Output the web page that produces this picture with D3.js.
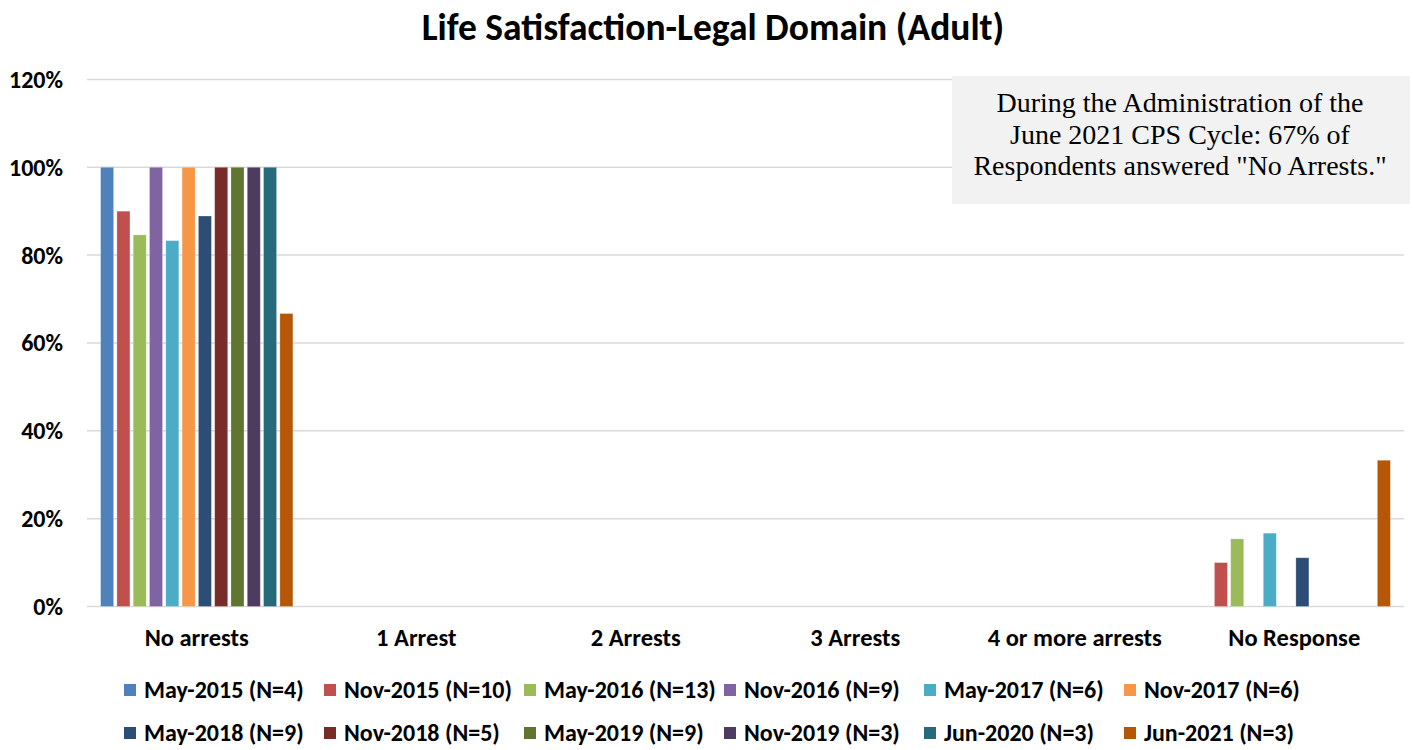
<!DOCTYPE html>
<html>
<head>
<meta charset="utf-8">
<script src="https://cdn.jsdelivr.net/npm/d3@7"></script>
<style>
  body { margin: 0; background: #fff; }
  svg { display: block; }
</style>
</head>
<body>
<div id="chart"></div>
<script>
// categorie e serie
const categories = ['No arrests', '1 Arrest', '2 Arrests', '3 Arrests', '4 or more arrests', 'No Response'];
const seriesNames = ['May-2015 (N=4)', 'Nov-2015 (N=10)', 'May-2016 (N=13)', 'Nov-2016 (N=9)',
  'May-2017 (N=6)', 'Nov-2017 (N=6)', 'May-2018 (N=9)', 'Nov-2018 (N=5)',
  'May-2019 (N=9)', 'Nov-2019 (N=3)', 'Jun-2020 (N=3)', 'Jun-2021 (N=3)'];
const seriesColors = ['#4F81BD', '#C0504D', '#9BBB59', '#8064A2', '#4BACC6', '#F79646',
  '#2C4D75', '#772C2A', '#5F7530', '#4D3B62', '#276A7C', '#B65708'];
// valori (%) per serie, nell'ordine delle categorie
const seriesValues = [
  [100, 0, 0, 0, 0, 0],
  [90, 0, 0, 0, 0, 10],
  [84.6, 0, 0, 0, 0, 15.4],
  [100, 0, 0, 0, 0, 0],
  [83.3, 0, 0, 0, 0, 16.7],
  [100, 0, 0, 0, 0, 0],
  [88.9, 0, 0, 0, 0, 11.1],
  [100, 0, 0, 0, 0, 0],
  [100, 0, 0, 0, 0, 0],
  [100, 0, 0, 0, 0, 0],
  [100, 0, 0, 0, 0, 0],
  [66.7, 0, 0, 0, 0, 33.3]
];
const yTicks = [0, 20, 40, 60, 80, 100, 120];
const chartTitle = 'Life Satisfaction-Legal Domain (Adult)';
const noteLines = ['During the Administration of the', 'June 2021 CPS Cycle: 67% of', 'Respondents answered "No Arrests."'];

const width = 1413, height = 750;
const plot = { left: 87, right: 1404, top: 79.4, bottom: 606.5 };
const sansFont = 'Carlito, Lato, Calibri, "Open Sans", sans-serif';

const svg = d3.select('#chart').append('svg')
  .attr('width', width)
  .attr('height', height);

// scale
const x0 = d3.scaleBand()
  .domain(categories)
  .range([plot.left, plot.right])
  .paddingInner(0.124)
  .paddingOuter(0.062);

const x1 = d3.scaleBand()
  .domain(d3.range(seriesNames.length))
  .range([0, x0.bandwidth()])
  .paddingInner(0.2)
  .paddingOuter(0);

const y = d3.scaleLinear()
  .domain([0, 120])
  .range([plot.bottom, plot.top]);

// griglia
svg.append('g')
  .selectAll('line')
  .data(yTicks)
  .enter()
  .append('line')
  .attr('x1', plot.left)
  .attr('x2', plot.right)
  .attr('y1', d => y(d))
  .attr('y2', d => y(d))
  .attr('stroke', '#d9d9d9')
  .attr('stroke-width', 1.5);

// etichette asse y
svg.append('g')
  .selectAll('text')
  .data(yTicks)
  .enter()
  .append('text')
  .attr('x', 63)
  .attr('y', d => y(d))
  .attr('dy', '0.35em')
  .attr('text-anchor', 'end')
  .attr('font-family', sansFont)
  .attr('font-weight', 'bold')
  .attr('font-size', '24px')
  .attr('fill', '#000')
  .text(d => d + '%');

// barre
const barData = [];
seriesValues.forEach((vals, si) => {
  vals.forEach((v, ci) => {
    if (v > 0) barData.push({ s: si, c: categories[ci], v: v });
  });
});

svg.append('g')
  .selectAll('rect')
  .data(barData)
  .enter()
  .append('rect')
  .attr('x', d => x0(d.c) + x1(d.s))
  .attr('y', d => y(d.v))
  .attr('width', x1.bandwidth())
  .attr('height', d => y(0) - y(d.v))
  .attr('fill', d => seriesColors[d.s])
  .attr('stroke', 'rgba(255,255,255,0.35)')
  .attr('stroke-width', 0.75);

// etichette asse x
svg.append('g')
  .selectAll('text')
  .data(categories)
  .enter()
  .append('text')
  .attr('x', d => x0(d) + x0.bandwidth() / 2)
  .attr('y', 637)
  .attr('dy', '0.35em')
  .attr('text-anchor', 'middle')
  .attr('font-family', sansFont)
  .attr('font-weight', 'bold')
  .attr('font-size', '24.5px')
  .attr('fill', '#000')
  .text(d => d);

// titolo
svg.append('text')
  .attr('x', 713)
  .attr('y', 27)
  .attr('dy', '0.35em')
  .attr('text-anchor', 'middle')
  .attr('font-family', sansFont)
  .attr('font-weight', 'bold')
  .attr('font-size', '37.5px')
  .attr('fill', '#000')
  .text(chartTitle);

// riquadro nota
const note = svg.append('g');
note.append('rect')
  .attr('x', 952)
  .attr('y', 76)
  .attr('width', 458)
  .attr('height', 128)
  .attr('fill', '#f2f2f2');
note.selectAll('text')
  .data(noteLines)
  .enter()
  .append('text')
  .attr('x', 1180)
  .attr('y', (d, i) => 112 + i * 31.5)
  .attr('text-anchor', 'middle')
  .attr('font-family', '"Liberation Serif", "Times New Roman", serif')
  .attr('font-size', '28px')
  .attr('fill', '#000')
  .text(d => d);

// legenda
const legend = svg.append('g');
seriesNames.forEach((name, i) => {
  const col = i % 6, row = Math.floor(i / 6);
  const item = legend.append('g')
    .attr('transform', `translate(${124 + col * 200}, ${690 + row * 43})`);
  item.append('rect')
    .attr('x', 0)
    .attr('y', -6)
    .attr('width', 12)
    .attr('height', 12)
    .attr('fill', seriesColors[i]);
  item.append('text')
    .attr('x', 20)
    .attr('y', 0)
    .attr('dy', '0.35em')
    .attr('font-family', sansFont)
    .attr('font-weight', 'bold')
    .attr('font-size', '24px')
    .attr('fill', '#000')
    .text(name);
});
</script>
</body>
</html>
